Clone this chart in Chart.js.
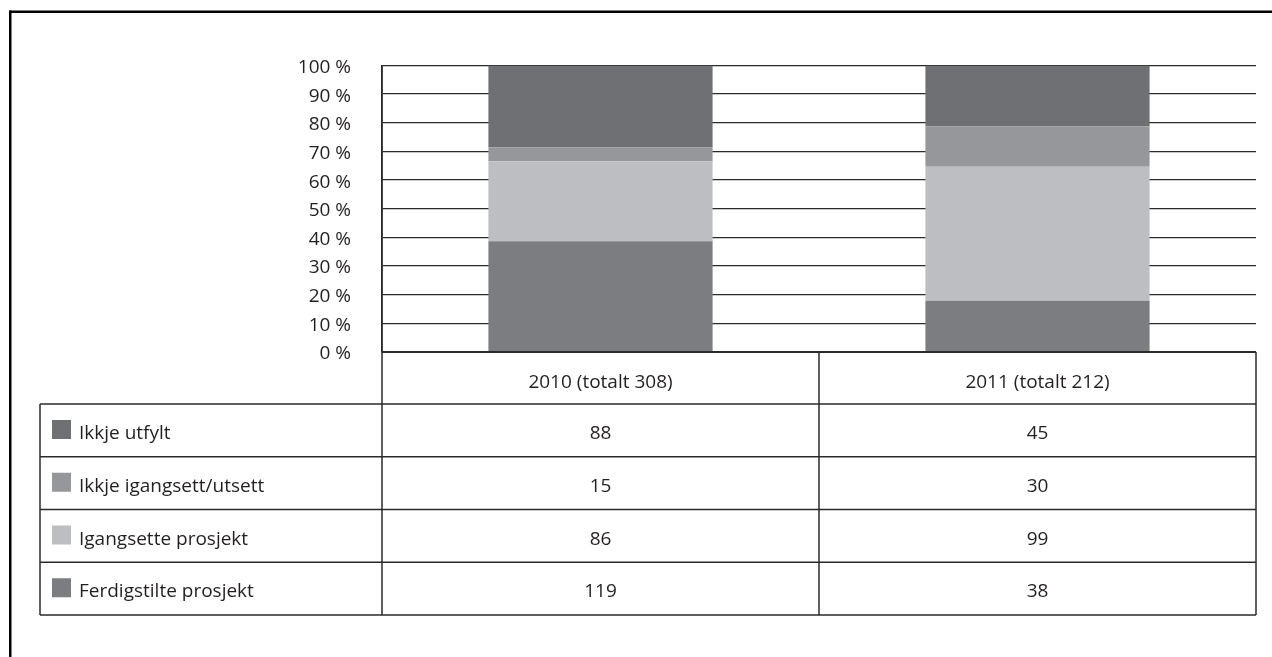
<!DOCTYPE html>
<html>
<head>
<meta charset="utf-8">
<script src="https://cdn.jsdelivr.net/npm/chart.js@4.4.1/dist/chart.umd.min.js"></script>
<style>
  html, body { margin: 0; padding: 0; background: #ffffff; }
  #wrap { width: 1272px; height: 657px; position: relative; }
</style>
</head>
<body>
<div id="wrap"><canvas id="c" width="1272" height="657"></canvas></div>
<script>
// ---- Data ----
const categories = ['2010 (totalt 308)', '2011 (totalt 212)'];
const seriesNames = ['Ferdigstilte prosjekt', 'Igangsette prosjekt', 'Ikkje igangsett/utsett', 'Ikkje utfylt'];
const ferdigstilte = [119, 38];
const igangsette = [86, 99];
const ikkjeIgangsett = [15, 30];
const ikkjeUtfylt = [88, 45];
const yTicks = [0, 10, 20, 30, 40, 50, 60, 70, 80, 90, 100];

// ---- Styles ----
const colors = ['#7c7d81', '#bdbec1', '#96979a', '#6f7074'];
const textColor = '#231f20';
const lineColor = '#2a2a2a';
const FONT = '"Open Sans", "DejaVu Sans", sans-serif';

const counts = [ferdigstilte, igangsette, ikkjeIgangsett, ikkjeUtfylt];
const totals = categories.map((_, i) => counts.reduce((s, arr) => s + arr[i], 0));

const datasets = counts.map((arr, k) => ({
  label: seriesNames[k],
  data: arr.map((v, i) => v / totals[i] * 100),
  backgroundColor: colors[k],
  borderWidth: 0,
  barPercentage: 0.513,
  categoryPercentage: 1.0
}));

const tablePlugin = {
  id: 'tablePlugin',
  beforeDraw(chart) {
    const ctx = chart.ctx;
    ctx.save();
    ctx.fillStyle = '#ffffff';
    ctx.fillRect(0, 0, chart.width, chart.height);
    ctx.restore();
  },
  afterDraw(chart) {
    const ctx = chart.ctx;
    const ca = chart.chartArea;
    const xs = chart.scales.x;
    const left = ca.left, right = ca.right;
    const centers = categories.map((_, i) => xs.getPixelForValue(i));
    const dividers = [];
    for (let i = 0; i < centers.length - 1; i++) dividers.push((centers[i] + centers[i + 1]) / 2);
    const headTop = ca.bottom;
    const headBot = headTop + 52;
    const rowH = 52.75;
    const nRows = seriesNames.length;
    const tableBot = headBot + rowH * nRows;
    const tableLeft = 40;

    ctx.save();
    // outer frame (top and left)
    ctx.fillStyle = '#000000';
    ctx.fillRect(9, 10.5, chart.width - 9, 2.5);
    ctx.fillRect(9, 10.5, 2.5, chart.height - 10.5);

    ctx.strokeStyle = lineColor;
    ctx.lineWidth = 1.5;
    const hline = (x1, x2, y) => { ctx.beginPath(); ctx.moveTo(x1, y); ctx.lineTo(x2, y); ctx.stroke(); };
    const vline = (x, y1, y2) => { ctx.beginPath(); ctx.moveTo(x, y1); ctx.lineTo(x, y2); ctx.stroke(); };

    // header row
    ctx.lineWidth = 2;
    hline(left, right, headTop);
    ctx.lineWidth = 1.5;
    vline(left, ca.top, tableBot);
    vline(right, headTop, tableBot);
    dividers.forEach(d => vline(d, headTop, tableBot));
    vline(tableLeft, headBot, tableBot);
    for (let r = 0; r <= nRows; r++) hline(tableLeft, right, headBot + rowH * r);

    ctx.fillStyle = textColor;
    ctx.font = '19px ' + FONT;
    ctx.textAlign = 'center';
    ctx.textBaseline = 'alphabetic';
    categories.forEach((c, i) => ctx.fillText(c, centers[i], headTop + 36));

    // rows: top row is the last dataset
    for (let r = 0; r < nRows; r++) {
      const k = nRows - 1 - r;
      const top = headBot + rowH * r;
      const base = top + 35;
      ctx.fillStyle = colors[k];
      ctx.fillRect(52, top + 16, 19, 19);
      ctx.fillStyle = textColor;
      ctx.textAlign = 'left';
      ctx.fillText(seriesNames[k], 79, base);
      ctx.textAlign = 'center';
      counts[k].forEach((v, i) => ctx.fillText(String(v), centers[i], base));
    }
    ctx.restore();
  }
};

new Chart(document.getElementById('c'), {
  type: 'bar',
  data: { labels: categories, datasets },
  plugins: [tablePlugin],
  options: {
    responsive: false,
    animation: false,
    events: [],
    layout: { autoPadding: false, padding: { left: 0, right: 16, top: 65.5, bottom: 305 } },
    plugins: { legend: { display: false }, tooltip: { enabled: false } },
    scales: {
      x: {
        stacked: true,
        display: false,
        grid: { display: false }
      },
      y: {
        stacked: true,
        min: 0,
        max: 100,
        afterFit(scale) { scale.width = 382; },
        afterBuildTicks(scale) { scale.ticks = yTicks.map(v => ({ value: v })); },
        grid: { color: lineColor, lineWidth: 1.3, drawTicks: false },
        border: { display: true, color: lineColor, width: 1.5 },
        ticks: {
          padding: 31,
          color: textColor,
          font: { family: FONT, size: 19 },
          labelOffset: 2,
          callback: (v) => v + ' %'
        }
      }
    }
  }
});
</script>
</body>
</html>
